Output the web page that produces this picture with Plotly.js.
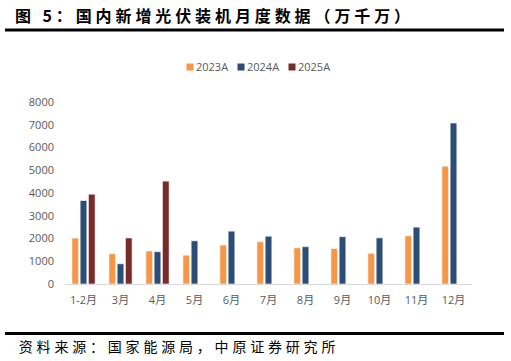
<!DOCTYPE html>
<html>
<head>
<meta charset="utf-8">
<script src="https://cdn.plot.ly/plotly-3.0.1.min.js"></script>
<style>
html,body{margin:0;padding:0;background:#fff;}
#chart{width:511px;height:361px;}
</style>
</head>
<body>
<div id="chart"></div>
<script>
const categories = ["1-2月","3月","4月","5月","6月","7月","8月","9月","10月","11月","12月"];
const seriesNames = ["2023A","2024A","2025A"];
const values2023 = [2020, 1330, 1450, 1270, 1710, 1860, 1590, 1560, 1350, 2120, 5180];
const values2024 = [3670, 890, 1420, 1900, 2324, 2100, 1640, 2080, 2030, 2500, 7076];
const values2025 = [3947, 2024, 4522, null, null, null, null, null, null, null, null];
const colors = ["#F79646", "#2C4D75", "#772C2A"];
const yTicks = [0,1000,2000,3000,4000,5000,6000,7000,8000];
const titleText = "图 5：国内新增光伏装机月度数据（万千万）";
const sourceText = "资料来源：国家能源局，中原证券研究所";

// plot area in pixels
const L = 65, R = 472, T = 102, B = 284;
const px2x = p => (p - L) / (R - L);
const px2y = p => (B - p) / (B - T);

const legendIds = ["legend", "legend2", "legend3"];
const legendLeft = [156, 207, 258];

const allSeries = [values2023, values2024, values2025];
const traces = [];
allSeries.forEach((vals, i) => {
  traces.push({
    type: "bar", x: categories, y: vals, name: seriesNames[i],
    marker: {color: colors[i], line: {color: "#ffffff", width: 0.6}},
    showlegend: false, hoverinfo: "x+y"
  });
});
allSeries.forEach((vals, i) => {
  traces.push({
    type: "scatter", mode: "markers", x: [null], y: [null], name: seriesNames[i],
    marker: {color: colors[i], symbol: "square", size: 7},
    showlegend: true, legend: legendIds[i], hoverinfo: "skip"
  });
});

const tickFont = {family: "Open Sans, Noto Sans CJK SC, sans-serif", size: 11, color: "#595959"};

const layout = {
  width: 511, height: 361,
  margin: {l: L, r: 511 - R, t: T, b: 361 - B, pad: 0},
  paper_bgcolor: "#ffffff", plot_bgcolor: "#ffffff",
  barmode: "group", bargap: 0.33, bargroupgap: 0.19,
  showlegend: true,
  xaxis: {
    type: "category", showgrid: false, zeroline: false,
    showline: true, linecolor: "#D9D9D9", linewidth: 1,
    ticks: "", tickfont: tickFont, ticklabelstandoff: 6, fixedrange: true
  },
  yaxis: {
    range: [0, 8000], tickvals: yTicks, ticktext: yTicks.map(String),
    showgrid: false, zeroline: false, showline: false,
    ticks: "", tickfont: tickFont, ticklabelstandoff: 10, fixedrange: true
  },
  shapes: [
    {type: "line", xref: "paper", yref: "paper", x0: px2x(5), x1: px2x(504), y0: px2y(30), y1: px2y(30),
     line: {color: "#000000", width: 3}},
    {type: "line", xref: "paper", yref: "paper", x0: px2x(5), x1: px2x(504), y0: px2y(333.5), y1: px2y(333.5),
     line: {color: "#000000", width: 3}}
  ],
  annotations: [
    {text: "<b>" + titleText + "</b>", xref: "paper", yref: "paper", x: px2x(214), y: px2y(15),
     xanchor: "center", yanchor: "middle", showarrow: false,
     font: {family: "Noto Sans CJK SC, sans-serif", size: 16, color: "#000000"}},
    {text: sourceText, xref: "paper", yref: "paper", x: px2x(179), y: px2y(346),
     xanchor: "center", yanchor: "middle", showarrow: false,
     font: {family: "Noto Sans CJK SC, sans-serif", size: 14, color: "#000000"}}
  ]
};
legendIds.forEach((id, i) => {
  layout[id] = {
    orientation: "h", x: px2x(legendLeft[i]), xanchor: "left", y: px2y(67), yanchor: "middle",
    font: tickFont, itemwidth: 30, bgcolor: "rgba(0,0,0,0)"
  };
});

Plotly.newPlot("chart", traces, layout, {displayModeBar: false, staticPlot: true}).then(gd => {
  const anns = gd.querySelectorAll(".annotation-text");
  if (anns[0]) anns[0].style.letterSpacing = "3.9px";
  if (anns[1]) anns[1].style.letterSpacing = "3.8px";
  gd.querySelectorAll(".legendpoints").forEach(g => {
    g.setAttribute("transform", "translate(14,0)");
  });
});
</script>
</body>
</html>
